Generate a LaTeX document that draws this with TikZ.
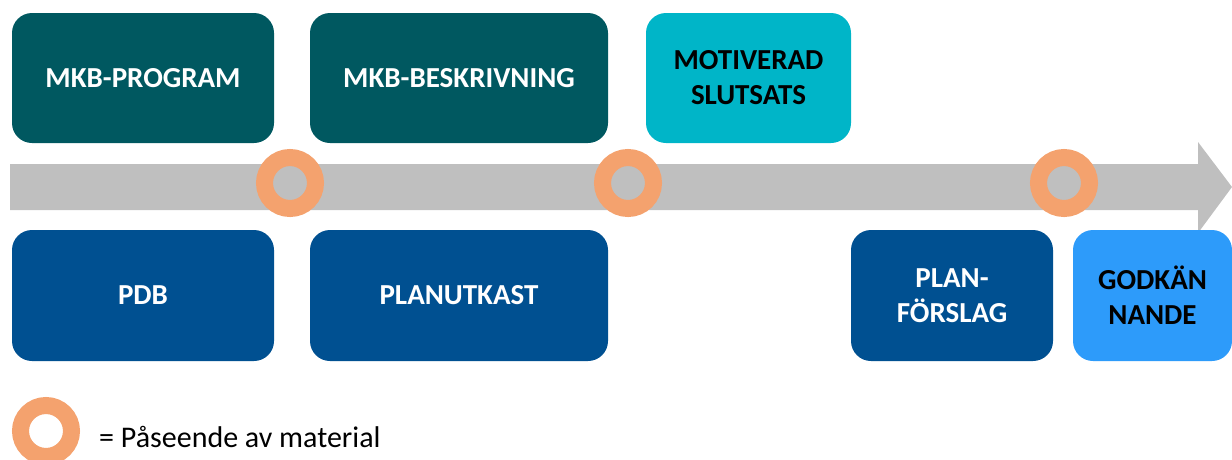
\documentclass[tikz,border=0pt]{standalone}
\usepackage{fontspec}
\setmainfont{Carlito}
\definecolor{teal}{RGB}{0,88,96}
\definecolor{cyanbox}{RGB}{0,181,200}
\definecolor{navy}{RGB}{0,80,145}
\definecolor{lightblue}{RGB}{45,155,250}
\definecolor{ring}{RGB}{244,162,110}
\definecolor{shaft}{RGB}{191,191,191}
\begin{document}
\begin{tikzpicture}[x=1pt,y=-1pt,
  box/.style={rectangle,rounded corners=20pt,minimum height=130pt,inner sep=0pt,
    font=\fontsize{29}{35}\selectfont\bfseries,align=center,text=white},
  ringnode/.style={circle,draw=ring,line width=17pt,minimum size=51pt,inner sep=0pt,fill=shaft}]
\useasboundingbox (0,0) rectangle (1232,459);
% arrow
\fill[shaft] (10,164) -- (1198,164) -- (1198,142) -- (1232,187) -- (1198,233) -- (1198,210) -- (10,210) -- cycle;
% top boxes
\node[box,fill=teal,minimum width=262pt] (mkbp) at (143,78) {MKB-PROGRAM};
\node[box,fill=teal,minimum width=298pt] (mkbb) at (459,78) {MKB-BESKRIVNING};
\node[box,fill=cyanbox,minimum width=205pt,text=black] (motiv) at (748.5,78) {MOTIVERAD\\SLUTSATS};
% bottom boxes
\node[box,fill=navy,minimum width=262pt,minimum height=131pt] (pdb) at (143,295.5) {PDB};
\node[box,fill=navy,minimum width=298pt,minimum height=131pt] (plan) at (459,295.5) {PLANUTKAST};
\node[box,fill=navy,minimum width=202pt,minimum height=131pt] (planf) at (952,295.5) {PLAN-\\FÖRSLAG};
\node[box,fill=lightblue,minimum width=159pt,minimum height=131pt,text=black] (godk) at (1152.5,295.5) {GODKÄN\\NANDE};
% rings
\node[ringnode] (r1) at (290,183) {};
\node[ringnode] (r2) at (628,183) {};
\node[ringnode] (r3) at (1064,183) {};
% legend
\node[ringnode,fill=white] (lr) at (46,431) {};
\node[anchor=west,inner sep=0pt,font=\fontsize{30}{34}\selectfont] (lt) at (99,437) {= Påseende av material};
\end{tikzpicture}
\end{document}
